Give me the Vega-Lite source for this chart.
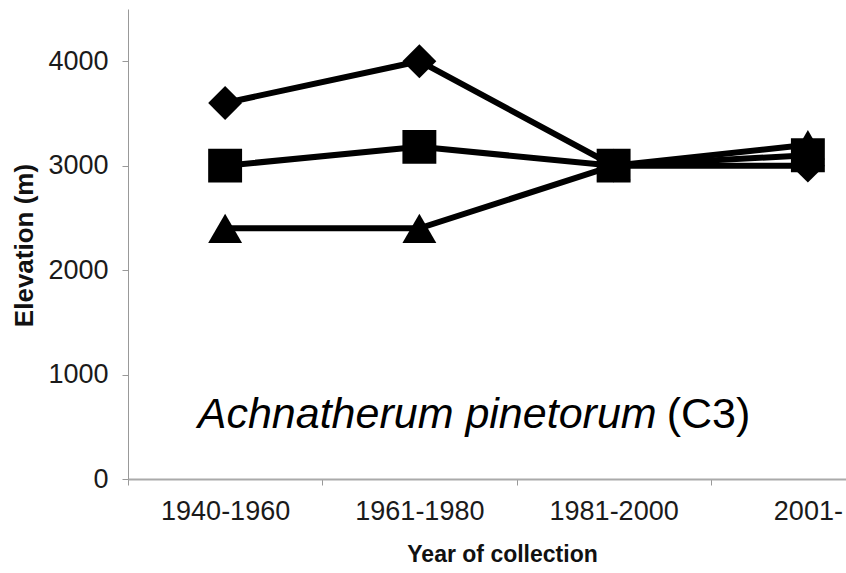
{
  "$schema": "https://vega.github.io/schema/vega-lite/v6.json",
  "width": 718,
  "height": 470,
  "autosize": {"type": "none"},
  "padding": {"left": 128, "top": 9, "right": 0, "bottom": 94},
  "background": "white",
  "config": {"view": {"stroke": null}, "font": "Liberation Sans"},
  "datasets": {
    "pts": [
      {"period": "1940-1960", "series": "min", "elev": 2400},
      {"period": "1961-1980", "series": "min", "elev": 2400},
      {"period": "1981-2000", "series": "min", "elev": 3000},
      {"period": "2001-", "series": "min", "elev": 3200},
      {"period": "1940-1960", "series": "max", "elev": 3600},
      {"period": "1961-1980", "series": "max", "elev": 4000},
      {"period": "1981-2000", "series": "max", "elev": 3000},
      {"period": "2001-", "series": "max", "elev": 3000},
      {"period": "1940-1960", "series": "mean", "elev": 3000},
      {"period": "1961-1980", "series": "mean", "elev": 3180},
      {"period": "1981-2000", "series": "mean", "elev": 3000},
      {"period": "2001-", "series": "mean", "elev": 3100}
    ],
    "notes": [
      {"part": "Achnatherum pinetorum", "period": "1981-2000", "elev": 490}
    ],
    "notes2": [
      {"part": "(C3)", "period": "1981-2000", "elev": 490}
    ]
  },
  "encoding": {
    "x": {
      "field": "period",
      "type": "nominal",
      "sort": ["1940-1960", "1961-1980", "1981-2000", "2001-"],
      "scale": {"type": "band", "domain": ["1940-1960", "1961-1980", "1981-2000", "2001-"], "range": [0, 777], "paddingInner": 0, "paddingOuter": 0},
      "axis": {
        "title": "Year of collection",
        "labelAngle": 0,
        "tickBand": "extent",
        "domainColor": "#aaa",
        "domainWidth": 2,
        "tickColor": "#999",
        "tickSize": 6,
        "labelFontSize": 27,
        "labelColor": "#1a1a1a",
        "labelPadding": 13,
        "titleFontSize": 23,
        "titleFontWeight": "bold",
        "titleColor": "#111",
        "titlePadding": 19,
        "titleX": 374
      }
    },
    "y": {
      "field": "elev",
      "type": "quantitative",
      "scale": {"domain": [0, 4500], "nice": false},
      "axis": {
        "title": "Elevation (m)",
        "values": [0, 1000, 2000, 3000, 4000],
        "format": "d",
        "grid": false,
        "domainColor": "#999",
        "tickColor": "#999",
        "tickSize": 6,
        "labelFontSize": 27,
        "labelColor": "#1a1a1a",
        "labelPadding": 14,
        "titleFontSize": 26,
        "titleFontWeight": "bold",
        "titleColor": "#111",
        "titleX": -104,
        "titleY": 236,
        "titleBaseline": "middle"
      }
    }
  },
  "layer": [
    {
      "data": {"name": "pts"},
      "mark": {"type": "line", "color": "black", "strokeWidth": 6},
      "encoding": {"detail": {"field": "series"}}
    },
    {
      "data": {"name": "pts"},
      "mark": {"type": "point", "filled": true, "color": "black", "opacity": 1, "size": 1150},
      "encoding": {
        "shape": {
          "field": "series",
          "type": "nominal",
          "scale": {"domain": ["max", "mean", "min"], "range": ["diamond", "square", "triangle-up"]},
          "legend": null
        }
      }
    },
    {
      "data": {"name": "notes"},
      "mark": {"type": "text", "align": "right", "baseline": "alphabetic", "fontSize": 43, "fontStyle": "italic", "color": "black", "dx": 43},
      "encoding": {"text": {"field": "part"}}
    },
    {
      "data": {"name": "notes2"},
      "mark": {"type": "text", "align": "left", "baseline": "alphabetic", "fontSize": 43, "color": "black", "dx": 53},
      "encoding": {"text": {"field": "part"}}
    }
  ]
}
